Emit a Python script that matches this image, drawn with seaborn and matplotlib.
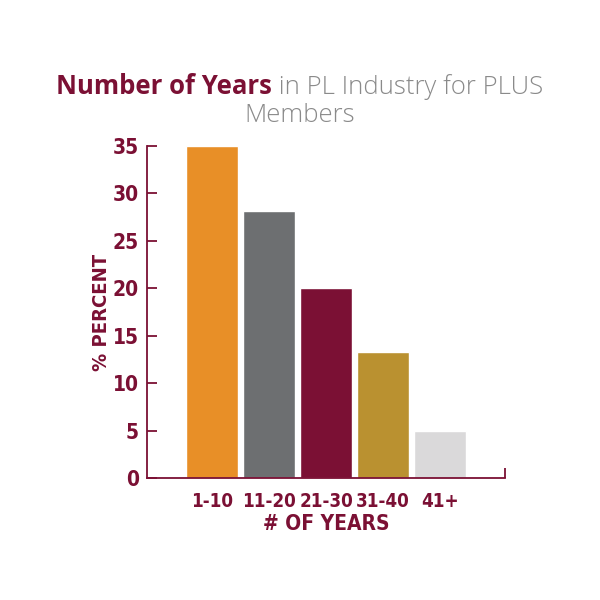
import matplotlib
matplotlib.use("Agg")
import matplotlib.pyplot as plt
import seaborn as sns
import pandas as pd

# values
categories = ["1-10", "11-20", "21-30", "31-40", "41+"]
percent = [35, 28.1, 20, 13.3, 5]
bar_colors = ["#E88F27", "#6D6F71", "#7B1034", "#BA9130", "#DAD9DA"]
y_ticks = [0, 5, 10, 15, 20, 25, 30, 35]

maroon = "#7B1034"
light_grey = "#8A8A8A"
cond = dict(family="DejaVu Sans", fontstretch="condensed", fontweight="bold",
            color=maroon)

sns.set_style("white")
plt.rcParams["font.family"] = ["Open Sans", "DejaVu Sans"]

df = pd.DataFrame({"years": categories, "percent": percent})

fig = plt.figure(figsize=(6, 6), dpi=100)
ax = fig.add_axes([0.245, 0.203, 0.597, 0.554])

sns.barplot(data=df, x="years", y="percent", hue="years", palette=bar_colors,
            width=0.92, saturation=1, legend=False, ax=ax)

ax.set_xlim(-1.14, 5.14)
ax.set_ylim(0, 35)
ax.set_yticks(y_ticks)
ax.set_yticklabels([str(t) for t in y_ticks], fontsize=15, **cond)
ax.set_xticks(range(len(categories)))
ax.set_xticklabels(categories, fontsize=13.5, **cond)
ax.set_xticks([5.14], minor=True)

ax.tick_params(axis="y", which="major", direction="in", length=7, width=1.3,
               color=maroon, pad=6, left=True)
ax.tick_params(axis="x", which="major", length=0, pad=10)
ax.tick_params(axis="x", which="minor", direction="in", length=7, width=1.3,
               color=maroon, bottom=True)

for side in ["top", "right"]:
    ax.spines[side].set_visible(False)
for side in ["left", "bottom"]:
    ax.spines[side].set_color(maroon)
    ax.spines[side].set_linewidth(1.3)

ax.set_xlabel("# OF YEARS", fontsize=15, labelpad=2, **cond)
ax.set_ylabel("% PERCENT", fontsize=14.5, labelpad=1, **cond)
ax.grid(False)

# two-colour title
fig.canvas.draw()
renderer = fig.canvas.get_renderer()
t1 = fig.text(0, 0.843, "Number of Years", fontsize=18.5, fontweight="bold",
              color=maroon, va="baseline")
t2 = fig.text(0, 0.843, " in PL Industry for PLUS", fontsize=18.5,
              fontweight="light", color=light_grey, va="baseline")
w1 = t1.get_window_extent(renderer).width / fig.bbox.width
w2 = t2.get_window_extent(renderer).width / fig.bbox.width
start = 0.5 - (w1 + w2) / 2
t1.set_x(start)
t2.set_x(start + w1)
fig.text(0.5, 0.797, "Members", fontsize=18.5, fontweight="light",
         color=light_grey, ha="center", va="baseline")

fig.savefig("out.png", dpi=100)
